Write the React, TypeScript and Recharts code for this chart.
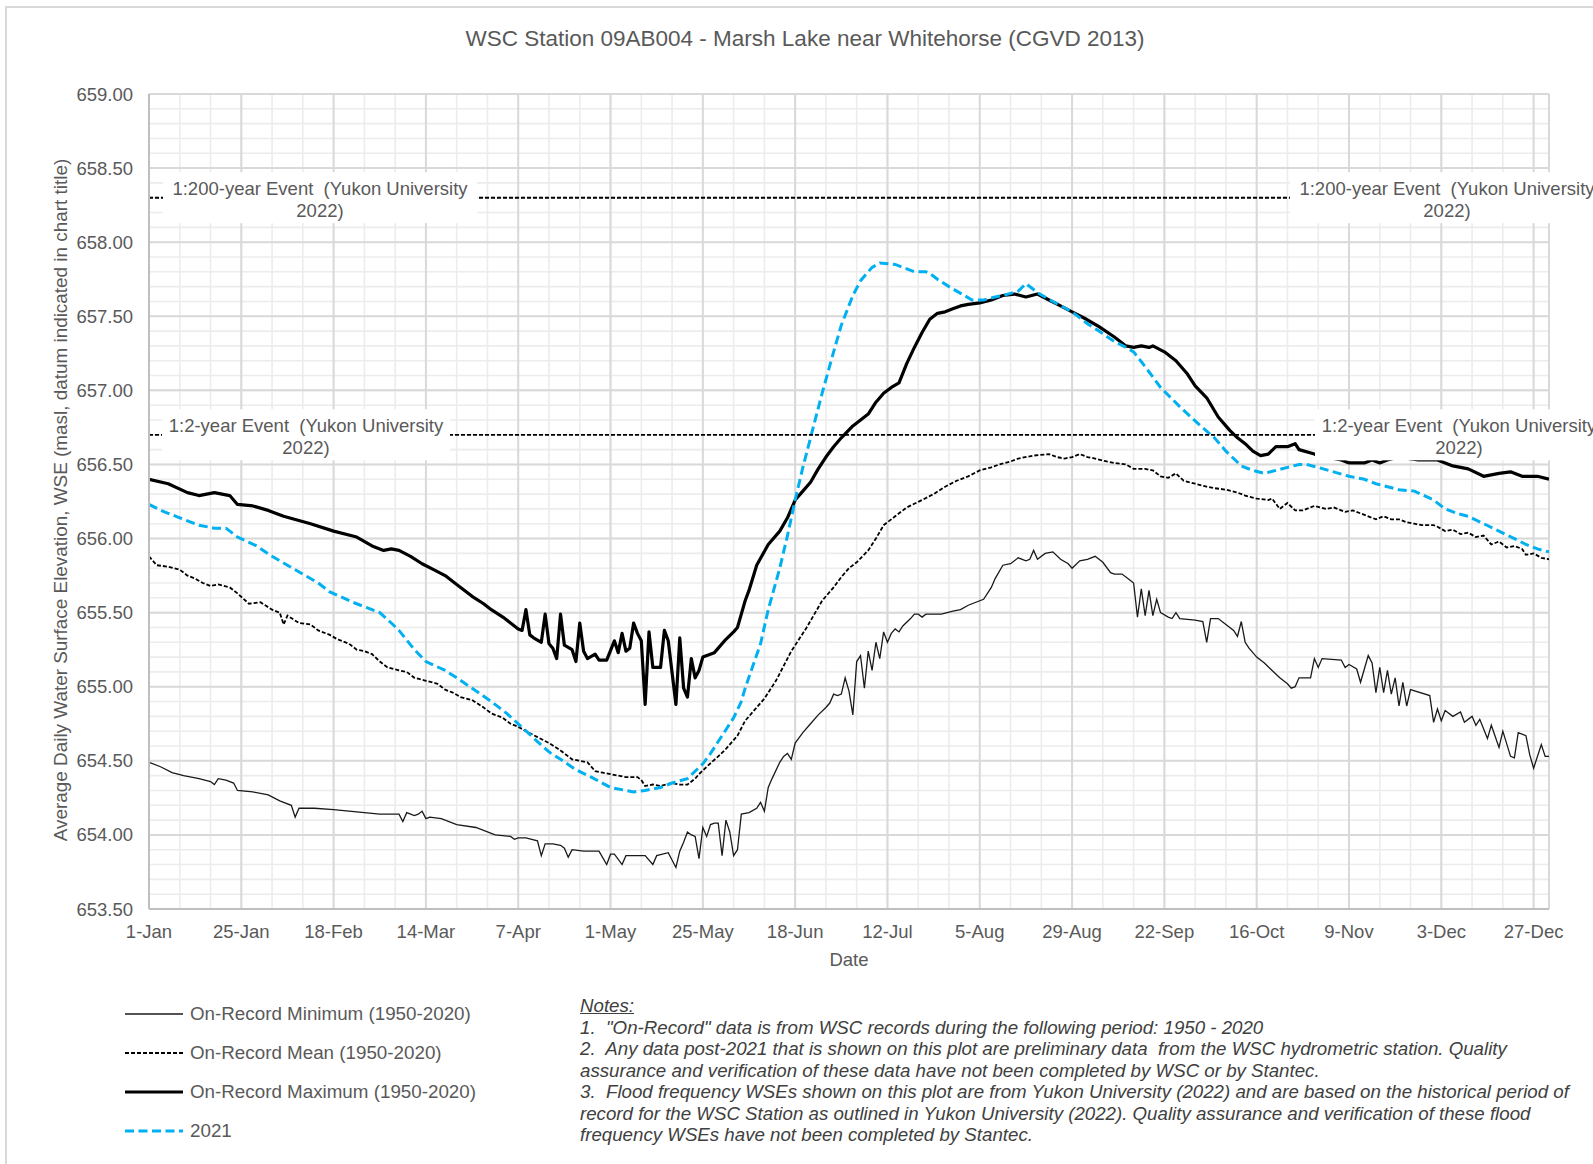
import { CartesianGrid, Legend, Line, LineChart, ReferenceLine, XAxis, YAxis } from "recharts";

const FONT = '"Liberation Sans", Arial, sans-serif';
const TEXT = "#595959";

// day of year (0 = 1-Jan), water surface elevation (masl)
const minSeries: [number, number][] = [
  [0, 654.49], [3, 654.46], [6, 654.42], [9, 654.4], [13, 654.38], [16, 654.36], [17, 654.34], [18, 654.38], [20, 654.37],
  [22, 654.35], [23, 654.3], [27, 654.29], [31, 654.27], [34, 654.23], [37, 654.2], [38, 654.12], [39, 654.18], [43, 654.18],
  [48, 654.17], [52, 654.16], [56, 654.15], [60, 654.14], [65, 654.14], [66, 654.09], [67, 654.15], [69, 654.13], [70, 654.14],
  [71, 654.16], [72, 654.11], [73, 654.12], [76, 654.11], [80, 654.07], [85, 654.05], [88, 654.02], [90, 654.0], [94, 653.99],
  [95, 653.97], [96, 653.98], [98, 653.98], [101, 653.96], [102, 653.86], [103, 653.94], [105, 653.94], [107, 653.93], [108, 653.91],
  [109, 653.85], [110, 653.9], [113, 653.89], [117, 653.89], [119, 653.8], [120, 653.87], [121, 653.87], [123, 653.8], [124, 653.86],
  [129, 653.86], [131, 653.8], [132, 653.86], [135, 653.88], [137, 653.78], [138, 653.89], [139, 653.95], [140, 654.02], [141, 654.0],
  [142, 653.99], [143, 653.84], [144, 654.05], [145, 653.99], [146, 654.07], [147, 654.08], [148, 654.08], [149, 653.86], [150, 654.1],
  [151, 654.02], [152, 653.86], [153, 653.9], [154, 654.14], [156, 654.15], [158, 654.18], [159, 654.22], [160, 654.16], [161, 654.32],
  [162, 654.38], [164, 654.49], [165, 654.53], [166, 654.55], [167, 654.51], [168, 654.62], [170, 654.69], [172, 654.75], [174, 654.81],
  [176, 654.86], [177, 654.89], [178, 654.95], [179, 654.94], [180, 654.95], [181, 655.06], [182, 654.97], [183, 654.81], [184, 655.17],
  [185, 655.21], [186, 654.99], [187, 655.24], [188, 655.11], [189, 655.3], [190, 655.19], [191, 655.37], [192, 655.3], [193, 655.36],
  [194, 655.39], [195, 655.37], [196, 655.41], [198, 655.46], [199, 655.49], [200, 655.49], [201, 655.47], [202, 655.49], [206, 655.49],
  [209, 655.51], [211, 655.52], [213, 655.55], [217, 655.59], [219, 655.67], [220, 655.73], [222, 655.82], [224, 655.83], [226, 655.87],
  [228, 655.85], [229, 655.86], [230, 655.92], [231, 655.86], [233, 655.9], [235, 655.91], [237, 655.86], [239, 655.83], [240, 655.8],
  [242, 655.85], [244, 655.86], [246, 655.88], [248, 655.84], [250, 655.77], [251, 655.76], [253, 655.76], [255, 655.72], [256, 655.7],
  [257, 655.47], [258, 655.66], [259, 655.48], [260, 655.65], [261, 655.48], [262, 655.59], [263, 655.5], [265, 655.47], [266, 655.46],
  [267, 655.5], [268, 655.46], [272, 655.45], [274, 655.44], [275, 655.3], [276, 655.46], [278, 655.46], [280, 655.42], [282, 655.38],
  [283, 655.34], [284, 655.44], [285, 655.3], [286, 655.26], [288, 655.2], [290, 655.16], [292, 655.11], [294, 655.06], [296, 655.02],
  [297, 654.99], [298, 655.0], [299, 655.06], [302, 655.06], [303, 655.19], [304, 655.13], [305, 655.19], [310, 655.18], [311, 655.13],
  [312, 655.15], [314, 655.12], [315, 655.03], [317, 655.21], [318, 655.16], [319, 654.96], [320, 655.13], [321, 654.96], [322, 655.11],
  [323, 654.95], [324, 655.06], [325, 654.87], [326, 655.03], [327, 654.87], [328, 654.98], [333, 654.94], [334, 654.76], [335, 654.85],
  [336, 654.77], [337, 654.84], [339, 654.8], [341, 654.83], [342, 654.76], [344, 654.8], [345, 654.74], [346, 654.78], [348, 654.65],
  [349, 654.74], [351, 654.59], [352, 654.7], [354, 654.53], [355, 654.52], [356, 654.69], [358, 654.67], [359, 654.54], [360, 654.45],
  [362, 654.61], [363, 654.53], [364, 654.53],
];

const meanSeries: [number, number][] = [
  [0, 655.88], [2, 655.82], [5, 655.81], [8, 655.79], [10, 655.75], [12, 655.73], [14, 655.7], [16, 655.68], [18, 655.69], [21, 655.67],
  [23, 655.63], [26, 655.56], [29, 655.57], [32, 655.52], [34, 655.5], [35, 655.42], [36, 655.48], [39, 655.43], [42, 655.42],
  [44, 655.38], [47, 655.35], [49, 655.32], [52, 655.29], [54, 655.25], [56, 655.24], [58, 655.22], [60, 655.17], [62, 655.13],
  [65, 655.11], [67, 655.1], [69, 655.06], [72, 655.04], [75, 655.02], [77, 654.98], [79, 654.96], [81, 654.93], [84, 654.91],
  [87, 654.86], [89, 654.82], [92, 654.79], [94, 654.75], [96, 654.73], [98, 654.7], [101, 654.66], [104, 654.62], [107, 654.57],
  [110, 654.51], [112, 654.5], [114, 654.49], [116, 654.43], [118, 654.42], [120, 654.41], [122, 654.4], [124, 654.39], [127, 654.39],
  [128, 654.37], [129, 654.33], [131, 654.34], [133, 654.33], [136, 654.35], [138, 654.34], [140, 654.34], [142, 654.38], [143, 654.41],
  [145, 654.46], [148, 654.53], [150, 654.58], [153, 654.67], [155, 654.77], [157, 654.83], [160, 654.92], [163, 655.04], [165, 655.14],
  [167, 655.24], [169, 655.32], [171, 655.4], [173, 655.49], [175, 655.58], [178, 655.67], [180, 655.74], [182, 655.8], [184, 655.84],
  [187, 655.92], [189, 656.0], [191, 656.09], [194, 656.15], [197, 656.21], [201, 656.26], [204, 656.3], [207, 656.35], [210, 656.39],
  [213, 656.42], [216, 656.46], [219, 656.48], [221, 656.5], [224, 656.52], [226, 656.54], [230, 656.56], [234, 656.57], [236, 656.55],
  [238, 656.54], [240, 656.55], [242, 656.57], [244, 656.55], [246, 656.54], [249, 656.52], [251, 656.51], [254, 656.5], [256, 656.47],
  [259, 656.47], [261, 656.46], [263, 656.42], [265, 656.41], [267, 656.44], [269, 656.39], [272, 656.37], [275, 656.35], [277, 656.34],
  [280, 656.33], [283, 656.31], [285, 656.29], [288, 656.27], [291, 656.26], [292, 656.27], [294, 656.2], [296, 656.24], [298, 656.19],
  [300, 656.19], [303, 656.22], [306, 656.2], [308, 656.21], [311, 656.18], [313, 656.19], [315, 656.17], [317, 656.15], [319, 656.13],
  [321, 656.15], [323, 656.13], [325, 656.13], [327, 656.11], [329, 656.1], [331, 656.09], [334, 656.09], [335, 656.08], [337, 656.05],
  [339, 656.06], [341, 656.03], [343, 656.04], [345, 656.01], [347, 656.02], [349, 655.96], [351, 655.98], [353, 655.94], [355, 655.95],
  [357, 655.93], [358, 655.89], [360, 655.9], [362, 655.87], [364, 655.86],
];

const maxSeries: [number, number][] = [
  [0, 656.4], [5, 656.37], [10, 656.31], [13, 656.29], [15, 656.3], [17, 656.31], [19, 656.3], [21, 656.29], [23, 656.23], [27, 656.22],
  [31, 656.19], [35, 656.15], [42, 656.1], [48, 656.05], [54, 656.01], [58, 655.95], [61, 655.92], [63, 655.93], [65, 655.92],
  [68, 655.88], [71, 655.83], [74, 655.79], [77, 655.75], [80, 655.69], [84, 655.61], [87, 655.56], [89, 655.52], [92, 655.47],
  [94, 655.43], [96, 655.39], [97, 655.38], [98, 655.52], [99, 655.35], [100, 655.33], [102, 655.3], [103, 655.49], [104, 655.29],
  [105, 655.26], [106, 655.19], [107, 655.49], [108, 655.28], [110, 655.25], [111, 655.17], [112, 655.43], [113, 655.24], [114, 655.19],
  [116, 655.22], [117, 655.18], [119, 655.18], [121, 655.31], [122, 655.23], [123, 655.36], [124, 655.24], [125, 655.26], [126, 655.43],
  [127, 655.36], [128, 655.31], [129, 654.88], [130, 655.37], [131, 655.13], [133, 655.13], [134, 655.38], [135, 655.31], [137, 654.88],
  [138, 655.33], [139, 654.99], [140, 654.93], [141, 655.19], [142, 655.06], [143, 655.11], [144, 655.2], [147, 655.23], [150, 655.32],
  [152, 655.37], [153, 655.4], [154, 655.49], [155, 655.58], [156, 655.65], [158, 655.82], [161, 655.96], [164, 656.05], [166, 656.14],
  [168, 656.26], [170, 656.32], [172, 656.38], [174, 656.47], [176, 656.55], [178, 656.62], [180, 656.68], [183, 656.76], [185, 656.8],
  [187, 656.84], [189, 656.92], [191, 656.98], [193, 657.02], [195, 657.05], [197, 657.18], [199, 657.29], [201, 657.39], [203, 657.48],
  [205, 657.52], [207, 657.53], [209, 657.55], [211, 657.57], [213, 657.58], [216, 657.59], [219, 657.61], [222, 657.64], [225, 657.65],
  [228, 657.63], [231, 657.65], [234, 657.61], [237, 657.57], [240, 657.53], [243, 657.49], [247, 657.43], [251, 657.36], [254, 657.3],
  [256, 657.29], [258, 657.3], [260, 657.29], [261, 657.3], [264, 657.26], [267, 657.2], [270, 657.11], [272, 657.03], [275, 656.95],
  [278, 656.82], [281, 656.73], [283, 656.68], [285, 656.64], [287, 656.59], [289, 656.56], [291, 656.57], [293, 656.62], [296, 656.62],
  [298, 656.64], [299, 656.6], [303, 656.57], [306, 656.55], [310, 656.53], [312, 656.51], [316, 656.51], [318, 656.53], [320, 656.51],
  [322, 656.53], [325, 656.55], [330, 656.53], [335, 656.53], [339, 656.49], [343, 656.47], [347, 656.42], [351, 656.44], [354, 656.45],
  [357, 656.42], [361, 656.42], [364, 656.4],
];

const series2021: [number, number][] = [
  [0, 656.23], [4, 656.18], [8, 656.14], [13, 656.09], [17, 656.07], [20, 656.07], [23, 656.01], [28, 655.95], [32, 655.88], [36, 655.82],
  [40, 655.76], [44, 655.7], [47, 655.64], [53, 655.57], [57, 655.53], [60, 655.5], [63, 655.43], [65, 655.38], [69, 655.25], [72, 655.17],
  [77, 655.11], [80, 655.06], [84, 654.99], [89, 654.9], [93, 654.82], [96, 654.75], [101, 654.63], [104, 654.56], [107, 654.51],
  [111, 654.44], [115, 654.39], [120, 654.32], [124, 654.3], [126, 654.29], [129, 654.3], [133, 654.32], [136, 654.35], [140, 654.38],
  [144, 654.48], [146, 654.55], [148, 654.63], [150, 654.71], [152, 654.79], [154, 654.9], [155, 654.99], [157, 655.14], [159, 655.29],
  [161, 655.52], [164, 655.8], [166, 656.02], [168, 656.26], [170, 656.48], [172, 656.68], [175, 656.98], [178, 657.26], [180, 657.44],
  [183, 657.64], [185, 657.74], [188, 657.83], [190, 657.86], [194, 657.85], [196, 657.83], [199, 657.8], [202, 657.8], [203, 657.79],
  [205, 657.75], [208, 657.7], [210, 657.67], [214, 657.61], [217, 657.61], [220, 657.63], [222, 657.64], [226, 657.67], [228, 657.72],
  [231, 657.66], [235, 657.6], [240, 657.53], [244, 657.45], [247, 657.4], [251, 657.33], [254, 657.29], [256, 657.26], [259, 657.16],
  [263, 657.02], [268, 656.89], [273, 656.77], [277, 656.68], [280, 656.59], [284, 656.49], [287, 656.46], [290, 656.44], [293, 656.46],
  [296, 656.48], [299, 656.5], [301, 656.5], [304, 656.48], [308, 656.45], [312, 656.42], [316, 656.4], [319, 656.37], [322, 656.35],
  [325, 656.33], [329, 656.32], [334, 656.26], [337, 656.2], [340, 656.17], [343, 656.15], [347, 656.1], [351, 656.05], [355, 656.0],
  [358, 655.96], [361, 655.93], [364, 655.91],
];

const xTickDays = [0, 24, 48, 72, 96, 120, 144, 168, 192, 216, 240, 264, 288, 312, 336, 360];
const xTickLabels = ["1-Jan", "25-Jan", "18-Feb", "14-Mar", "7-Apr", "1-May", "25-May", "18-Jun", "12-Jul", "5-Aug", "29-Aug", "22-Sep", "16-Oct", "9-Nov", "3-Dec", "27-Dec"];
const yTicks = [653.5, 654, 654.5, 655, 655.5, 656, 656.5, 657, 657.5, 658, 658.5, 659];
const minorDayTicks = Array.from({ length: 46 }, (_, i) => i * 8);
const minorWseTicks = Array.from({ length: 56 }, (_, i) => Number((653.5 + i * 0.1).toFixed(1)));

const event200 = 658.3;
const event2 = 656.7;
const eventLabel200 = ["1:200-year Event  (Yukon University", "2022)"];
const eventLabel2 = ["1:2-year Event  (Yukon University", "2022)"];

const notes = [
  '1.  "On-Record" data is from WSC records during the following period: 1950 - 2020',
  "2.  Any data post-2021 that is shown on this plot are preliminary data  from the WSC hydrometric station. Quality",
  "assurance and verification of these data have not been completed by WSC or by Stantec.",
  "3.  Flood frequency WSEs shown on this plot are from Yukon University (2022) and are based on the historical period of",
  "record for the WSC Station as outlined in Yukon University (2022). Quality assurance and verification of these flood",
  "frequency WSEs have not been completed by Stantec.",
];

const styles = {
  min: { stroke: "#1a1a1a", width: 1.3, dash: undefined as string | undefined },
  mean: { stroke: "#000000", width: 1.8, dash: "4 2" },
  max: { stroke: "#000000", width: 3.2, dash: undefined as string | undefined },
  y2021: { stroke: "#00b0f0", width: 3, dash: "9 4.5" },
};

const legendItems = [
  { label: "On-Record Minimum (1950-2020)", style: styles.min },
  { label: "On-Record Mean (1950-2020)", style: styles.mean },
  { label: "On-Record Maximum (1950-2020)", style: styles.max },
  { label: "2021", style: styles.y2021 },
];

const toPoints = (rows: [number, number][]) => rows.map(([day, wse]) => ({ day, wse }));

type RefLabelProps = {
  viewBox?: { x: number; y: number; width: number };
  lines: string[];
  leftOffset: number;
  rightOffset: number;
  boxWidth: number;
};

function RefLineLabel({ viewBox, lines, leftOffset, rightOffset, boxWidth }: RefLabelProps) {
  if (!viewBox) return null;
  const centers = [viewBox.x + leftOffset, viewBox.x + viewBox.width - rightOffset];
  return (
    <g>
      {centers.map((cx) => (
        <g key={cx}>
          <rect x={cx - boxWidth / 2} y={viewBox.y - 25.5} width={boxWidth} height={51} fill="#ffffff" />
          <text x={cx} y={viewBox.y - 3} textAnchor="middle" fontSize={18.5} fontFamily={FONT} fill={TEXT} style={{ whiteSpace: "pre" }}>
            {lines[0]}
          </text>
          <text x={cx} y={viewBox.y + 19} textAnchor="middle" fontSize={18.5} fontFamily={FONT} fill={TEXT}>
            {lines[1]}
          </text>
        </g>
      ))}
    </g>
  );
}

function ChartLegend() {
  return (
    <div style={{ fontFamily: FONT, fontSize: 18.8, color: TEXT }}>
      {legendItems.map((item) => (
        <div key={item.label} style={{ display: "flex", alignItems: "center", height: 39 }}>
          <svg width={58} height={10} style={{ marginLeft: 125, marginRight: 7, overflow: "visible" }}>
            <line x1={0} y1={5} x2={58} y2={5} stroke={item.style.stroke} strokeWidth={item.style.width} strokeDasharray={item.style.dash} />
          </svg>
          <span style={{ whiteSpace: "nowrap" }}>{item.label}</span>
        </div>
      ))}
    </div>
  );
}

export default function App() {
  const tick = { fill: TEXT, fontSize: 18.5, fontFamily: FONT };
  return (
    <div style={{ position: "absolute", left: 0, top: 0, width: 1593, height: 1164, overflow: "hidden", background: "#ffffff", fontFamily: FONT }}>
      <div style={{ position: "absolute", left: 5, top: 6, width: 1800, height: 1400, border: "2px solid #d9d9d9" }} />
      <LineChart width={1593} height={1164} margin={{ top: 94, right: 44, bottom: 225, left: 89 }}>
        <CartesianGrid stroke="#ececec" strokeWidth={1.6} verticalValues={minorDayTicks} horizontalValues={minorWseTicks} />
        <CartesianGrid stroke="#d9d9d9" strokeWidth={2} />
        <XAxis
          type="number"
          dataKey="day"
          domain={[0, 364]}
          ticks={xTickDays}
          interval={0}
          allowDataOverflow
          tickFormatter={(d: number) => xTickLabels[xTickDays.indexOf(d)] ?? ""}
          tick={tick}
          tickLine={false}
          tickSize={0}
          tickMargin={16}
          axisLine={{ stroke: "#bfbfbf", strokeWidth: 2 }}
          height={30}
        />
        <YAxis
          type="number"
          domain={[653.5, 659]}
          ticks={yTicks}
          interval={0}
          allowDataOverflow
          tickFormatter={(v: number) => v.toFixed(2)}
          tick={tick}
          tickLine={false}
          tickSize={0}
          tickMargin={16}
          axisLine={{ stroke: "#bfbfbf", strokeWidth: 2 }}
          width={60}
        />
        <Line data={toPoints(minSeries)} dataKey="wse" name="On-Record Minimum (1950-2020)" type="linear" stroke={styles.min.stroke} strokeWidth={styles.min.width} dot={false} activeDot={false} isAnimationActive={false} />
        <Line data={toPoints(meanSeries)} dataKey="wse" name="On-Record Mean (1950-2020)" type="linear" stroke={styles.mean.stroke} strokeWidth={styles.mean.width} strokeDasharray={styles.mean.dash} dot={false} activeDot={false} isAnimationActive={false} />
        <Line data={toPoints(maxSeries)} dataKey="wse" name="On-Record Maximum (1950-2020)" type="linear" stroke={styles.max.stroke} strokeWidth={styles.max.width} strokeLinejoin="round" dot={false} activeDot={false} isAnimationActive={false} />
        <Line data={toPoints(series2021)} dataKey="wse" name="2021" type="linear" stroke={styles.y2021.stroke} strokeWidth={styles.y2021.width} strokeDasharray={styles.y2021.dash} dot={false} activeDot={false} isAnimationActive={false} />
        <ReferenceLine
          y={event200}
          stroke="#000000"
          strokeWidth={1.8}
          strokeDasharray="4 2"
          label={<RefLineLabel lines={eventLabel200} leftOffset={171} rightOffset={102} boxWidth={314} />}
        />
        <ReferenceLine
          y={event2}
          stroke="#000000"
          strokeWidth={1.8}
          strokeDasharray="4 2"
          label={<RefLineLabel lines={eventLabel2} leftOffset={157} rightOffset={90} boxWidth={288} />}
        />
        <Legend
          layout="vertical"
          align="center"
          verticalAlign="middle"
          wrapperStyle={{ left: 0, top: 994, width: 600, height: 160 }}
          content={() => <ChartLegend />}
        />
      </LineChart>

      <div style={{ position: "absolute", left: 805, top: 39, transform: "translate(-50%, -50%)", fontSize: 22.5, color: TEXT, whiteSpace: "nowrap" }}>
        WSC Station 09AB004 - Marsh Lake near Whitehorse (CGVD 2013)
      </div>
      <div style={{ position: "absolute", left: 61, top: 500, transform: "translate(-50%, -50%) rotate(-90deg)", fontSize: 18.9, color: TEXT, whiteSpace: "nowrap" }}>
        Average Daily Water Surface Elevation, WSE (masl, datum indicated in chart title)
      </div>
      <div style={{ position: "absolute", left: 849, top: 960, transform: "translate(-50%, -50%)", fontSize: 18.5, color: TEXT }}>
        Date
      </div>
      <div style={{ position: "absolute", left: 580, top: 995, fontSize: 18.7, lineHeight: "21.5px", fontStyle: "italic", color: "#404040", whiteSpace: "pre" }}>
        <div style={{ textDecoration: "underline" }}>Notes:</div>
        {notes.map((line) => (
          <div key={line}>{line}</div>
        ))}
      </div>
    </div>
  );
}
